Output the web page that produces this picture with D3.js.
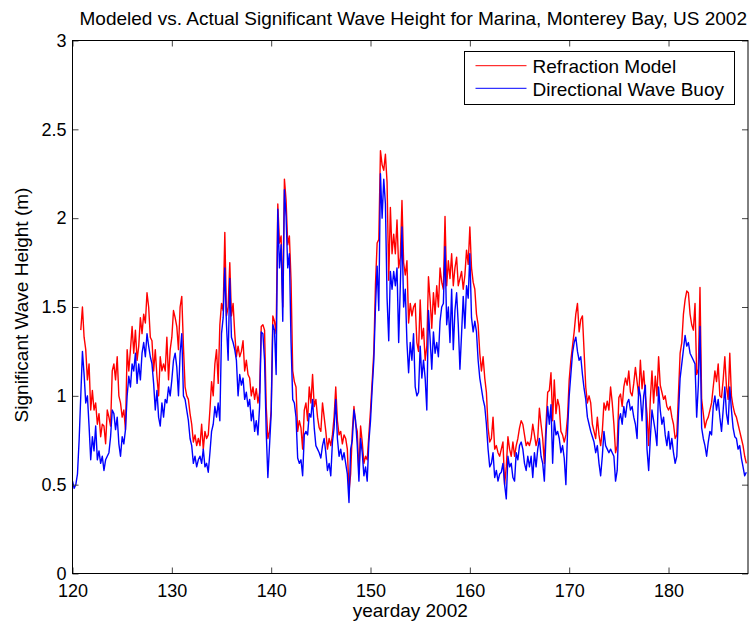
<!DOCTYPE html>
<html>
<head>
<meta charset="utf-8">
<script src="https://cdn.jsdelivr.net/npm/d3@7"></script>
<style>
  body { margin: 0; background: #fff; }
  svg text { font-family: "Liberation Sans", Arial, Helvetica, sans-serif; fill: #000; }
</style>
</head>
<body>
<svg id="chart" width="751" height="627"></svg>
<script>
"use strict";

// hourly records read off roughly every 4 hours, starting yearday 120
var startDay = 120;
var stepDays = 1 / 6;

var modelHs = [
  null,null,null,null,null,1.37,1.5,1.33,1.26,1.09,1.18,0.92,1.03,0.92,0.96,0.84,0.9,
  0.77,0.84,0.83,0.73,0.92,0.88,0.83,1.14,1.18,1.09,1.22,1.0,0.96,0.88,0.92,0.81,1.26,
  1.14,1.26,1.39,1.24,1.37,1.2,1.28,1.44,1.35,1.46,1.41,1.58,1.5,1.33,1.31,1.14,1.26,
  1.11,1.0,1.22,1.14,1.18,1.14,1.33,1.09,1.26,1.33,1.48,1.44,1.39,1.26,1.5,1.56,1.28,
  1.05,1.0,0.98,0.9,0.84,0.74,0.78,0.72,0.76,0.72,0.84,0.7,0.8,0.76,0.78,0.92,1.08,
  1.0,1.18,1.26,1.07,1.4,1.52,1.48,1.92,1.45,1.5,1.75,1.45,1.52,1.35,1.22,1.28,1.22,
  1.25,1.31,1.14,1.2,1.12,1.1,1.0,1.05,0.98,1.04,0.96,1.02,1.39,1.4,1.37,0.94,0.76,
  0.8,0.92,1.45,1.42,1.35,2.08,1.86,1.9,1.5,2.22,2.1,1.85,1.9,1.65,1.14,1.08,1.05,
  0.8,0.86,0.82,0.7,0.92,0.96,0.86,1.05,0.96,1.12,0.94,0.98,0.88,0.82,0.8,0.96,0.88,
  0.8,0.7,0.76,0.72,0.78,0.88,1.05,0.86,0.78,0.8,0.73,0.78,0.76,0.7,0.46,0.56,0.8,
  0.94,0.84,0.8,0.56,0.83,0.74,0.62,0.66,0.64,0.78,0.92,1.08,1.25,1.63,1.86,1.88,2.38,
  2.3,2.27,2.36,2.2,1.65,2.06,1.8,1.91,1.8,1.99,1.72,1.78,2.1,1.75,1.68,1.76,1.41,
  1.52,1.45,1.5,1.52,1.3,1.25,1.54,1.32,1.38,1.2,1.28,1.67,1.54,1.38,1.58,1.46,1.62,
  1.5,1.72,1.64,1.6,2.01,1.62,1.76,1.66,1.8,1.62,1.72,1.78,1.62,1.66,1.7,1.6,1.68,
  1.82,1.74,1.95,1.72,1.64,1.6,1.46,1.4,1.24,1.14,1.22,1.1,1.02,0.82,0.74,0.76,0.88,
  0.7,0.72,0.68,0.66,0.7,0.74,0.5,0.6,0.77,0.7,0.66,0.74,0.66,0.72,0.76,0.82,0.86,
  0.84,0.78,0.72,0.74,0.72,0.76,0.84,0.78,0.72,0.76,0.93,0.84,0.76,0.62,0.84,1.02,1.03,
  1.13,0.86,1.09,0.9,0.98,0.94,0.8,0.78,0.74,0.78,0.88,1.09,1.2,1.28,1.36,1.46,1.52,
  1.36,1.43,1.45,1.25,1.05,0.96,1.0,0.96,0.84,0.8,0.76,0.88,0.78,0.72,0.8,0.96,0.92,
  0.97,0.92,1.05,0.96,0.84,0.68,0.72,0.99,1.01,0.94,1.05,1.1,1.06,1.14,1.02,1.0,1.07,
  1.16,1.08,1.0,1.2,1.04,1.14,1.0,0.9,0.72,0.98,1.14,0.96,1.11,1.0,1.22,1.06,1.02,
  0.98,1.0,0.94,0.92,0.94,0.88,0.84,0.76,0.78,1.01,1.24,1.3,1.46,1.54,1.59,1.58,1.46,
  1.4,1.37,1.52,1.12,1.15,1.61,0.98,0.9,0.82,0.86,0.88,0.92,0.96,1.05,1.14,1.08,1.18,
  1.0,0.99,1.09,1.22,1.05,0.98,1.24,1.0,0.94,0.9,0.88,0.84,0.8,0.76,0.72,0.66,0.62
];

var buoyHs = [
  0.52,0.48,0.5,0.56,0.75,1.0,1.25,1.12,0.96,1.0,0.83,0.64,0.77,0.69,0.83,0.64,0.69,
  0.62,0.66,0.58,0.64,0.66,0.68,0.77,0.92,0.9,0.81,0.88,0.73,0.66,0.77,0.73,0.81,1.0,
  1.11,1.05,1.18,1.14,1.24,1.07,1.18,1.09,1.24,1.3,1.22,1.35,1.28,1.22,1.18,1.07,0.92,
  1.03,0.88,0.83,0.96,0.88,0.98,0.96,1.05,1.0,1.09,1.2,1.24,1.16,1.0,1.24,1.35,1.0,
  0.98,0.92,0.86,0.76,0.72,0.62,0.66,0.6,0.64,0.66,0.62,0.7,0.6,0.62,0.57,0.68,0.8,
  0.84,0.94,0.88,0.96,0.86,1.35,1.44,1.72,1.4,1.2,1.66,1.33,1.3,1.26,1.2,1.0,1.12,
  1.06,1.1,0.98,1.02,0.94,0.98,0.86,0.92,0.8,0.86,0.78,0.94,1.36,1.35,1.2,0.8,0.54,
  0.72,0.9,1.4,1.37,1.12,2.05,1.72,1.85,1.42,2.16,2.01,1.72,1.8,1.3,0.98,0.96,0.88,
  0.65,0.62,0.64,0.55,0.78,0.8,0.78,0.9,0.88,0.98,0.82,0.72,0.7,0.68,0.65,0.72,0.76,
  0.68,0.58,0.62,0.55,0.74,0.82,0.98,0.76,0.66,0.7,0.64,0.68,0.62,0.56,0.4,0.7,0.75,
  0.92,0.86,0.72,0.52,0.76,0.68,0.55,0.6,0.52,0.74,0.86,1.04,1.2,1.5,1.73,1.48,2.25,
  2.0,2.22,2.08,1.55,1.31,1.7,1.6,1.7,1.62,1.72,1.3,1.62,1.95,1.5,1.6,1.3,1.13,
  1.3,1.2,1.35,1.05,1.0,1.02,1.28,1.1,1.2,1.1,0.92,1.48,1.32,1.15,1.36,1.24,1.3,
  1.22,1.42,1.5,1.52,1.84,1.4,1.5,1.3,1.6,1.26,1.48,1.58,1.4,1.15,1.35,1.56,1.38,
  1.62,1.55,1.8,1.44,1.36,1.42,1.36,1.2,1.1,1.04,0.98,0.94,0.84,0.7,0.6,0.62,0.68,
  0.54,0.58,0.52,0.56,0.57,0.62,0.5,0.42,0.66,0.6,0.62,0.54,0.52,0.68,0.64,0.72,0.74,
  0.7,0.62,0.58,0.66,0.6,0.66,0.54,0.68,0.6,0.7,0.76,0.66,0.62,0.52,0.78,0.94,0.84,
  0.95,0.62,0.86,0.78,0.8,0.76,0.68,0.72,0.65,0.5,0.8,1.0,1.12,1.24,1.3,1.33,1.25,
  1.2,1.22,1.12,1.04,0.98,0.88,0.84,0.8,0.77,0.74,0.68,0.72,0.62,0.55,0.66,0.8,0.72,
  0.7,0.68,0.7,0.68,0.66,0.52,0.58,0.86,0.9,0.84,0.94,0.88,0.96,0.98,0.92,0.94,0.88,
  0.84,0.76,1.05,1.0,0.86,1.0,1.06,0.7,0.58,0.76,0.92,0.86,0.8,0.72,1.05,0.92,0.84,
  0.88,0.78,0.72,0.8,0.7,0.76,0.68,0.62,0.66,0.9,1.1,1.18,1.26,1.34,1.28,1.3,1.24,
  1.22,1.2,1.18,0.88,1.06,1.39,0.82,0.76,0.72,0.66,0.74,0.8,0.78,0.94,1.0,0.92,0.98,
  0.88,0.8,0.92,1.05,0.9,0.84,1.05,0.92,0.82,0.77,0.76,0.7,0.72,0.65,0.6,0.55,0.57
];

var seriesNames = [ "Refraction Model", "Directional Wave Buoy" ];
var seriesColors = [ "#ff0000", "#0000ff" ];
var xTicks = [ 120, 130, 140, 150, 160, 170, 180 ];
var yTicks = [ 0, 0.5, 1, 1.5, 2, 2.5, 3 ];
var titleText = "Modeled vs. Actual Significant Wave Height for Marina, Monterey Bay, US 2002";
var xLabel = "yearday 2002";
var yLabel = "Significant Wave Height (m)";

var plotLeft = 72.5, plotRight = 748, plotTop = 40.5, plotBottom = 573.5;
var fontSize = 18;
var bigFont = 19;

var svg = d3.select( "#chart" );

var x = d3.scaleLinear().domain( [ 120, 188 ] ).range( [ plotLeft, plotRight ] );
var y = d3.scaleLinear().domain( [ 0, 3 ] ).range( [ plotBottom, plotTop ] );

function toPoints( values ) {
  return values.map( function( v, i ) {
    return { day: startDay + i * stepDays, hs: v };
  } );
}

svg.append( "defs" ).append( "clipPath" ).attr( "id", "plotClip" )
   .append( "rect" )
   .attr( "x", plotLeft ).attr( "y", plotTop )
   .attr( "width", plotRight - plotLeft ).attr( "height", plotBottom - plotTop );

var line = d3.line()
             .defined( function( d ) { return d.hs !== null; } )
             .x( function( d ) { return x( d.day ); } )
             .y( function( d ) { return y( d.hs ); } );

var series = [ toPoints( modelHs ), toPoints( buoyHs ) ];

svg.append( "g" ).attr( "clip-path", "url(#plotClip)" )
   .selectAll( "path" )
   .data( series )
   .enter()
   .append( "path" )
   .attr( "d", line )
   .attr( "fill", "none" )
   .attr( "stroke", function( d, i ) { return seriesColors[i]; } )
   .attr( "stroke-width", 1.4 )
   .attr( "stroke-linejoin", "round" );

// axes, MATLAB style: ticks pointing inward on all four sides
function styleAxis( g ) {
  g.select( ".domain" ).remove();
  g.selectAll( ".tick line" ).attr( "stroke", "#444" );
  g.selectAll( ".tick text" ).style( "font-size", fontSize + "px" );
}

svg.append( "g" )
   .attr( "transform", "translate(0," + plotBottom + ")" )
   .call( d3.axisBottom( x ).tickValues( xTicks ).tickSize( -6 ).tickPadding( 11 ) )
   .call( styleAxis );
svg.append( "g" )
   .attr( "transform", "translate(0," + plotTop + ")" )
   .call( d3.axisTop( x ).tickValues( xTicks ).tickSize( -6 ).tickFormat( "" ) )
   .call( styleAxis );
svg.append( "g" )
   .attr( "transform", "translate(" + plotLeft + ",0)" )
   .call( d3.axisLeft( y ).tickValues( yTicks ).tickSize( -6 ).tickPadding( 6 ).tickFormat( d3.format( "" ) ) )
   .call( styleAxis );
svg.append( "g" )
   .attr( "transform", "translate(" + plotRight + ",0)" )
   .call( d3.axisRight( y ).tickValues( yTicks ).tickSize( -6 ).tickFormat( "" ) )
   .call( styleAxis );

svg.append( "rect" )
   .attr( "x", plotLeft ).attr( "y", plotTop )
   .attr( "width", plotRight - plotLeft ).attr( "height", plotBottom - plotTop )
   .attr( "fill", "none" ).attr( "stroke", "#000" );

svg.append( "text" )
   .attr( "x", ( plotLeft + plotRight ) / 2 + 3 ).attr( "y", 25 )
   .attr( "text-anchor", "middle" )
   .style( "font-size", bigFont + "px" )
   .text( titleText );

svg.append( "text" )
   .attr( "x", ( plotLeft + plotRight ) / 2 ).attr( "y", 617 )
   .attr( "text-anchor", "middle" )
   .style( "font-size", bigFont + "px" )
   .text( xLabel );

svg.append( "text" )
   .attr( "transform", "translate(27.5,305) rotate(-90)" )
   .attr( "text-anchor", "middle" )
   .style( "font-size", bigFont + "px" )
   .text( yLabel );

// legend
var legend = svg.append( "g" ).attr( "transform", "translate(464.5,51.5)" );
legend.append( "rect" )
      .attr( "width", 270 ).attr( "height", 53 )
      .attr( "fill", "#fff" ).attr( "stroke", "#000" );
var items = legend.selectAll( ".item" )
                  .data( seriesNames )
                  .enter()
                  .append( "g" )
                  .attr( "class", "item" )
                  .attr( "transform", function( d, i ) { return "translate(0," + ( 14.2 + i * 22.6 ) + ")"; } );
items.append( "line" )
     .attr( "x1", 11 ).attr( "x2", 62 )
     .attr( "stroke", function( d, i ) { return seriesColors[i]; } )
     .attr( "stroke-width", 1 );
items.append( "text" )
     .attr( "x", 68 ).attr( "y", 7.3 )
     .style( "font-size", bigFont + "px" )
     .text( function( d ) { return d; } );
</script>
</body>
</html>
